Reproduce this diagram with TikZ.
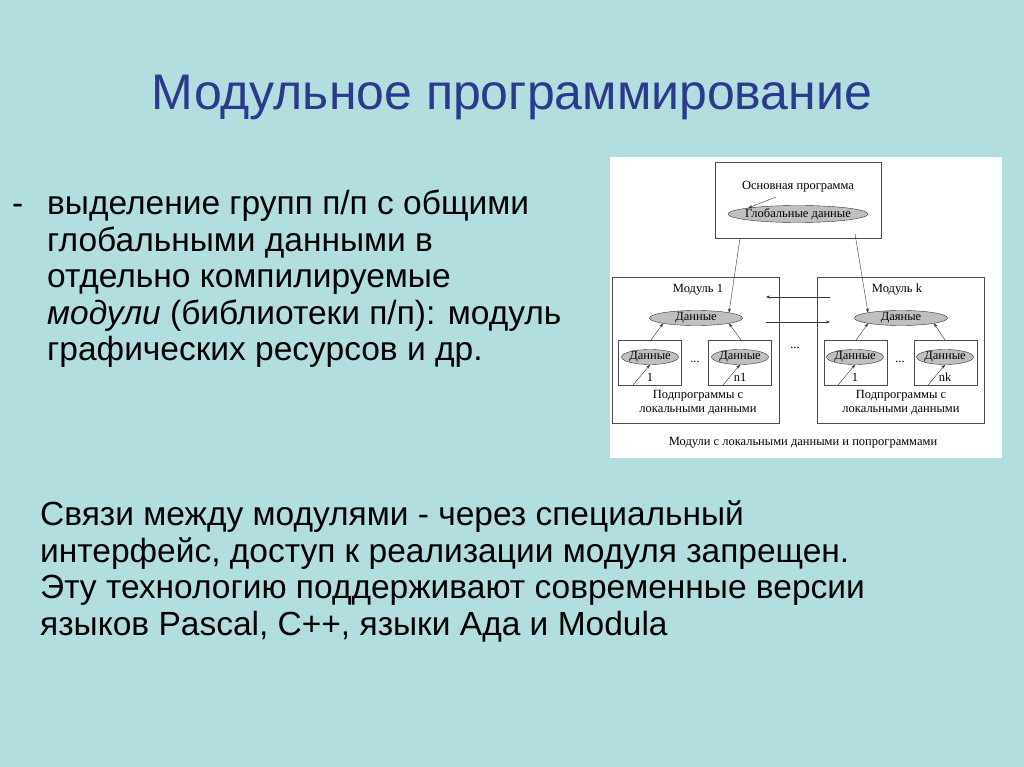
\documentclass[tikz,border=0pt]{standalone}
\usepackage{fontspec}
\setmainfont{Liberation Sans}
\newfontfamily\diagfont{Liberation Serif}
\usetikzlibrary{shapes, arrows.meta, positioning}
\definecolor{slidebg}{HTML}{B3DEDF}
\definecolor{titleblue}{HTML}{2B3A8C}

\begin{document}
\begin{tikzpicture}[x=1pt, y=-1pt,
        txt/.style={anchor=north west, align=left, font=\fontsize{33.5}{36.5}\selectfont, inner sep=0pt},
        modbox/.style={draw=black!70, fill=white, line width=0.5pt},
        blob/.style={ellipse, draw=black!80, fill=black!25, inner xsep=-2pt, inner ysep=-2pt,
                     font=\diagfont\fontsize{12.5}{13}\selectfont},
        lbl/.style={font=\diagfont\fontsize{12.5}{14}\selectfont, align=center, inner sep=0pt},
        arr/.style={-{Stealth[length=4pt]}, black!80, line width=0.4pt}
      ]
        \fill[slidebg] (0,0) rectangle (1024,767);
        \useasboundingbox (0,0) rectangle (1024,767);

        \node[font=\fontsize{50}{52}\selectfont, text=titleblue] (title) at (512,97) {Модульное программирование};

        \node[txt] (dash) at (12,189) {\strut-};
        \node[txt] (intro) at (47,189) {\strut выделение групп п/п с общими\\глобальными данными в\\отдельно компилируемые\\\textit{модули} (библиотеки п/п): модуль\\графических ресурсов и др.};
        \node[txt] (links) at (40,500) {\strut Связи между модулями - через специальный\\интерфейс, доступ к реализации модуля запрещен.\\Эту технологию поддерживают современные версии\\языков Pascal, C++, языки Ада и Modula};

        % diagram panel
        \fill[white] (610,157) rectangle (1002,458);
        \draw[modbox] (715,162) rectangle (881,238);
        \draw[modbox] (612,277) rectangle (779,423);
        \draw[modbox] (817,277) rectangle (984,423);
        \foreach \x in {618,708,824,914}
          \draw[modbox] (\x,340) rectangle ++(63,45);

        \node[lbl] (mainlbl) at (798,187) {Основная программа};
        \node[blob, minimum width=140, minimum height=17, inner xsep=-8pt] (glob) at (798,214) {Глобальные данные};
        \coordinate (gp) at (776,197);
        \draw[arr] (gp) -- (glob.north west);

        \node[lbl] (m1) at (698,290) {Модуль 1};
        \node[lbl] (mk) at (897,290) {Модуль k};
        \node[blob, minimum width=93, minimum height=15] (d1) at (696,318) {Данные};
        \node[blob, minimum width=93, minimum height=15] (dk) at (901,318) {Даяные};

        \coordinate (gl) at (740,238);
        \coordinate (gr) at (855,234);
        \draw[arr] (gl) -- (d1.north east);
        \draw[arr] (gr) -- (dk.north west);

        \coordinate (ka) at (830,297);
        \coordinate (kb) at (766,297);
        \coordinate (ja) at (766,322);
        \coordinate (jb) at (830,322);
        \draw[arr] (ka) -- (kb);
        \draw[arr] (ja) -- (jb);

        % local data of subprograms
        \foreach \name/\x/\n in {a/650/1, b/740/n1, c/855/1, d/945/nk} {
          \node[blob, minimum width=57, minimum height=15] (s\name) at (\x,357) {Данные};
          \node[lbl] (n\name) at (\x,377) {\n};
          \coordinate (p\name) at (\x-17,385);
          \draw[arr] (p\name) -- (s\name.south);
        }
        \coordinate (ta) at (651,340);
        \coordinate (tb) at (741,340);
        \coordinate (tc) at (856,340);
        \coordinate (td) at (945,340);
        \draw[arr] (ta) -- (d1.south west);
        \draw[arr] (tb) -- (d1.south east);
        \draw[arr] (tc) -- (dk.south west);
        \draw[arr] (td) -- (dk.south east);

        \node[lbl] (e1) at (695,362) {...};
        \node[lbl] (e2) at (795,348) {...};
        \node[lbl] (e3) at (900,362) {...};

        \node[lbl] (sub1) at (698,403) {Подпрограммы с\\локальными данными};
        \node[lbl] (subk) at (901,403) {Подпрограммы с\\локальными данными};
        \node[lbl] (cap) at (803,443) {Модули с локальными данными и попрограммами};
      \end{tikzpicture}
\end{document}
